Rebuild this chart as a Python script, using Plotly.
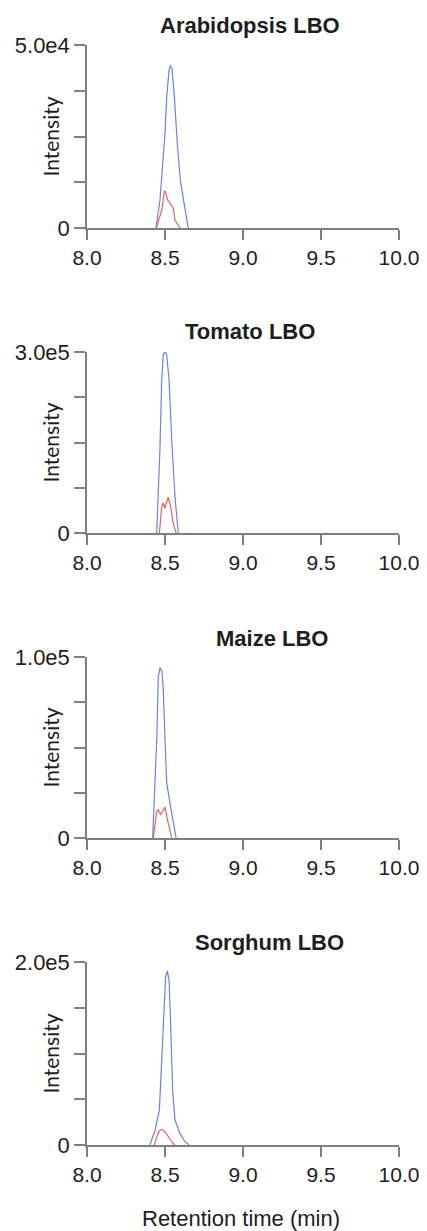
import plotly.graph_objects as go

W, H = 427, 1231

titles = ["Arabidopsis LBO", "Tomato LBO", "Maize LBO", "Sorghum LBO"]
y_max = [5.0e4, 3.0e5, 1.0e5, 2.0e5]
y_max_labels = ["5.0e4", "3.0e5", "1.0e5", "2.0e5"]
x_ticks = [8.0, 8.5, 9.0, 9.5, 10.0]
x_tick_labels = ["8.0", "8.5", "9.0", "9.5", "10.0"]

# Arabidopsis
arab_blue_x = [8.442, 8.468, 8.500, 8.511, 8.526, 8.534, 8.545, 8.560, 8.579, 8.598, 8.622, 8.649]
arab_blue_y = [0, 7650, 25900, 35900, 43200, 44350, 43600, 35900, 23100, 13100, 6800, 0]
arab_red_x = [8.445, 8.479, 8.496, 8.500, 8.517, 8.553, 8.564, 8.596]
arab_red_y = [0, 4900, 9900, 10200, 7650, 5400, 2200, 0]

# Tomato
tom_blue_x = [8.447, 8.468, 8.479, 8.489, 8.500, 8.511, 8.526, 8.543, 8.564, 8.585]
tom_blue_y = [0, 143000, 253600, 295000, 301000, 295000, 253600, 154000, 60000, 0]
tom_red_x = [8.464, 8.479, 8.489, 8.500, 8.511, 8.521, 8.536, 8.553, 8.571]
tom_red_y = [0, 43600, 50200, 41000, 51900, 59200, 43600, 16000, 0]

# Maize
mai_blue_x = [8.421, 8.436, 8.447, 8.457, 8.468, 8.481, 8.489, 8.500, 8.511, 8.532, 8.553, 8.571]
mai_blue_y = [0, 26600, 54100, 89000, 94100, 91700, 81700, 54100, 30300, 19300, 8300, 0]
mai_red_x = [8.425, 8.447, 8.457, 8.472, 8.489, 8.500, 8.511, 8.528, 8.543]
mai_red_y = [0, 14700, 15600, 12800, 15600, 17100, 11900, 4600, 0]

# Sorghum
sor_blue_x = [8.404, 8.436, 8.464, 8.479, 8.494, 8.504, 8.515, 8.526, 8.536, 8.549, 8.564, 8.596, 8.628, 8.656]
sor_blue_y = [0, 16400, 38200, 96400, 158000, 183600, 190200, 180000, 132700, 60000, 27300, 12700, 3600, 0]
sor_red_x = [8.431, 8.447, 8.464, 8.479, 8.500, 8.521, 8.543, 8.564]
sor_red_y = [0, 9100, 15600, 17100, 14500, 9100, 3600, 0]

blue_series = [(arab_blue_x, arab_blue_y), (tom_blue_x, tom_blue_y),
               (mai_blue_x, mai_blue_y), (sor_blue_x, sor_blue_y)]
red_series = [(arab_red_x, arab_red_y), (tom_red_x, tom_red_y),
              (mai_red_x, mai_red_y), (sor_red_x, sor_red_y)]

# layout in pixels
panel_top = [45, 352, 657, 962]
panel_bot = [228, 533, 838, 1145]
title_x = [250, 250, 272, 269]
title_y = [25, 332, 638, 942]
x_left, x_right = 87, 399

BLUE = "#6f80e6"
RED = "#e8625f"
AXIS = "#7f7f7f"
TXT = "#1e1e1e"

fig = go.Figure()
layout = dict(width=W, height=H, margin=dict(l=0, r=0, t=0, b=0, pad=0, autoexpand=False),
              plot_bgcolor="white", paper_bgcolor="white", showlegend=False)
annotations = []

for i in range(4):
    xa = "x" if i == 0 else f"x{i+1}"
    ya = "y" if i == 0 else f"y{i+1}"
    bx, by = blue_series[i]
    rx, ry = red_series[i]
    fig.add_trace(go.Scatter(x=bx, y=by, mode="lines", line=dict(color=BLUE, width=1.2),
                             xaxis=xa, yaxis=ya, hoverinfo="skip"))
    fig.add_trace(go.Scatter(x=rx, y=ry, mode="lines", line=dict(color=RED, width=1.2),
                             xaxis=xa, yaxis=ya, hoverinfo="skip"))
    m = y_max[i]
    yt = [0, m * 0.25, m * 0.5, m * 0.75, m]
    ytt = ["0", "", "", "", y_max_labels[i]]
    ydom = [1 - panel_bot[i] / H, 1 - panel_top[i] / H]
    layout["xaxis" if i == 0 else f"xaxis{i+1}"] = dict(
        domain=[x_left / W, x_right / W], range=[8.0, 10.0], anchor=ya, automargin=False,
        tickvals=x_ticks, ticktext=x_tick_labels, ticks="outside", ticklen=10,
        tickwidth=1.5, tickcolor=AXIS, showline=True, linecolor=AXIS, linewidth=1.5,
        showgrid=False, zeroline=False,
        tickfont=dict(family="Liberation Sans, Arial", size=21, color=TXT))
    layout["yaxis" if i == 0 else f"yaxis{i+1}"] = dict(
        domain=ydom, range=[0, m], anchor=xa, automargin=False,
        tickvals=yt, ticktext=ytt, ticks="outside", ticklen=11,
        tickwidth=1.5, tickcolor=AXIS, showline=True, linecolor=AXIS, linewidth=1.5,
        showgrid=False, zeroline=False,
        tickfont=dict(family="Liberation Sans, Arial", size=22, color=TXT))
    annotations.append(dict(text=f"<b>{titles[i]}</b>", x=title_x[i] / W, y=1 - title_y[i] / H,
                            xref="paper", yref="paper", showarrow=False,
                            xanchor="center", yanchor="middle",
                            font=dict(family="Liberation Sans, Arial", size=22, color=TXT)))
    annotations.append(dict(text="Intensity", x=50 / W,
                            y=1 - (panel_top[i] + panel_bot[i]) / 2 / H,
                            xref="paper", yref="paper", showarrow=False, textangle=-90,
                            xanchor="center", yanchor="middle",
                            font=dict(family="Lato, Open Sans", size=21, color=TXT)))

annotations.append(dict(text="Retention time (min)", x=241 / W, y=1 - 1218 / H,
                        xref="paper", yref="paper", showarrow=False,
                        xanchor="center", yanchor="middle",
                        font=dict(family="Liberation Sans, Arial", size=22, color=TXT)))
layout["annotations"] = annotations
fig.update_layout(**layout)
fig.write_html("out.html")
